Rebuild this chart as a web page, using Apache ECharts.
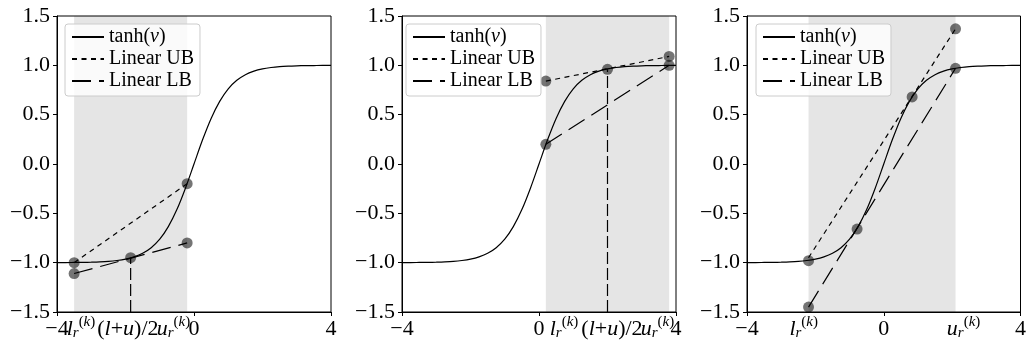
<!DOCTYPE html>
<html><head><meta charset="utf-8">
<script src="https://cdn.jsdelivr.net/npm/echarts@6/dist/echarts.min.js"></script>
<style>html,body{margin:0;padding:0;background:#fff}#c{width:1029px;height:346px}</style>
</head><body><div id="c"></div><script>
// tanh(v) curve
const curveX = [-4,-3.75,-3.5,-3.25,-3,-2.75,-2.5,-2.25,-2,-1.75,-1.5,-1.25,-1,-0.75,-0.5,-0.25,0,0.25,0.5,0.75,1,1.25,1.5,1.75,2,2.25,2.5,2.75,3,3.25,3.5,3.75,4];
const curveY = [-0.999,-0.999,-0.998,-0.997,-0.995,-0.992,-0.987,-0.978,-0.964,-0.941,-0.905,-0.848,-0.762,-0.635,-0.462,-0.245,0,0.245,0.462,0.635,0.762,0.848,0.905,0.941,0.964,0.978,0.987,0.992,0.995,0.997,0.998,0.999,0.999];
const yTicks = [-1.5,-1.0,-0.5,0,0.5,1.0,1.5];
const xMajorTicks = [-4,0,4];
const legendNames = ['tanh(v)','Linear UB','Linear LB'];

// panel 1
const p1Range = [-3.5,-0.2];
const p1UB = [[-3.5,-1.0],[-0.2,-0.2]];
const p1LB = [[-3.5,-1.11],[-0.2,-0.8]];
const p1VLine = [[-1.85,-1.5],[-1.85,-0.95]];
const p1Dots = [[-3.5,-1.0],[-3.5,-1.11],[-1.85,-0.95],[-0.2,-0.2],[-0.2,-0.8]];
const p1LabelPos = [-3.3,-1.93,-0.6];
const p1LabelKinds = ['l','mid','u'];

// panel 2
const p2Range = [0.2,3.8];
const p2UB = [[0.2,0.84],[3.8,1.09]];
const p2LB = [[0.2,0.2],[3.8,1.0]];
const p2VLine = [[2.0,-1.5],[2.0,0.96]];
const p2Dots = [[0.2,0.2],[0.2,0.84],[2.0,0.96],[3.8,1.09],[3.8,1.0]];
const p2LabelPos = [0.73,2.13,3.46];
const p2LabelKinds = ['l','mid','u'];

// panel 3
const p3Range = [-2.2,2.1];
const p3UB = [[-2.2,-0.95],[2.1,1.37]];
const p3LB = [[-2.2,-1.45],[2.1,0.97]];
const p3VLine = [];
const p3Dots = [[-2.2,-0.98],[-2.2,-1.45],[-0.78,-0.66],[0.83,0.68],[2.1,0.97],[2.1,1.37]];
const p3LabelPos = [-2.35,2.30];
const p3LabelKinds = ['l','u'];

const FONT = 'Liberation Serif';
const FS = 22;      // tick labels
const LFS = 20;     // legend
const panels = [
  {range:p1Range, ub:p1UB, lb:p1LB, vline:p1VLine, dots:p1Dots, lpos:p1LabelPos, lkind:p1LabelKinds},
  {range:p2Range, ub:p2UB, lb:p2LB, vline:p2VLine, dots:p2Dots, lpos:p2LabelPos, lkind:p2LabelKinds},
  {range:p3Range, ub:p3UB, lb:p3LB, vline:p3VLine, dots:p3Dots, lpos:p3LabelPos, lkind:p3LabelKinds}
];
const gridBoxes = [{left:57,width:274},{left:402,width:274},{left:747,width:275}];
const legendLefts = [65,406,756];

const richX = {
  n:{fontFamily:FONT,fontSize:FS,lineHeight:28,color:'#000'},
  it:{fontFamily:FONT,fontSize:FS,fontStyle:'italic',lineHeight:28,color:'#000'},
  sub:{fontFamily:FONT,fontSize:15,fontStyle:'italic',lineHeight:15,padding:[8,0,0,0],color:'#000'},
  sup:{fontFamily:FONT,fontSize:15,lineHeight:15,padding:[0,0,13,0],color:'#000'},
  supi:{fontFamily:FONT,fontSize:15,fontStyle:'italic',lineHeight:15,padding:[0,0,13,0],color:'#000'}
};
const kindText = {
  l:'{it|l}{sub|r}{sup|(}{supi|k}{sup|)}',
  u:'{it|u}{sub|r}{sup|(}{supi|k}{sup|)}',
  mid:'{n|(}{it|l}{n|+}{it|u}{n|)/2}'
};
function num(v, d){ const s = Math.abs(v).toFixed(d); return (v < 0 ? '\u2212' : '') + s; }

const grid=[], xAxis=[], yAxis=[], legend=[], series=[];
// main grids
panels.forEach((p,i)=>{
  grid.push({left:gridBoxes[i].left, width:gridBoxes[i].width, top:16, height:296,
    show:true, borderColor:'#000', borderWidth:1, backgroundColor:'transparent', z:10});
  xAxis.push({gridIndex:i, type:'value', min:-4, max:4, z:10,
    axisLine:{show:true,onZero:false,lineStyle:{color:'#000',width:1}},
    axisTick:{show:true,length:4,customValues:xMajorTicks,lineStyle:{color:'#000',width:1}},
    splitLine:{show:false},
    axisLabel:{customValues:xMajorTicks, showMinLabel:true, showMaxLabel:true,
      fontFamily:FONT, fontSize:FS, color:'#000', margin:3, lineHeight:28, formatter:(v)=>num(v,0)}
  });
  yAxis.push({gridIndex:i, type:'value', min:-1.5, max:1.5, interval:0.5, z:10,
    axisLine:{show:true,onZero:false,lineStyle:{color:'#000',width:1}},
    axisTick:{show:true,length:4,lineStyle:{color:'#000',width:1}},
    splitLine:{show:false},
    axisLabel:{fontFamily:FONT, fontSize:FS, color:'#000', margin:7, showMinLabel:true, showMaxLabel:true, formatter:(v)=>num(v,1)}
  });
  legend.push({left:legendLefts[i], top:24, orient:'vertical', data:legendNames, selectedMode:false,
    itemWidth:32, itemHeight:14, itemGap:2, padding:[3,6,5,6],
    backgroundColor:'rgba(255,255,255,0.8)', borderColor:'#cccccc', borderWidth:1, borderRadius:3,
    itemStyle:{opacity:0}, z:20,
    textStyle:{fontFamily:FONT, fontSize:LFS, color:'#000',
      rich:{it:{fontFamily:FONT,fontSize:LFS,fontStyle:'italic',color:'#000'}}},
    formatter:(name)=> name==='tanh(v)' ? 'tanh({it|v})' : name
  });
  series.push({type:'line', xAxisIndex:i, yAxisIndex:i, data:[], z:1, silent:true,
    markArea:{silent:true, itemStyle:{color:'#e5e5e5'}, data:[[{xAxis:p.range[0]},{xAxis:p.range[1]}]]}});
  series.push({type:'line', name:'tanh(v)', xAxisIndex:i, yAxisIndex:i, symbol:'none', smooth:0.3, z:3,
    data:curveX.map((x,j)=>[x,curveY[j]]), lineStyle:{color:'#000',width:1.2}, itemStyle:{color:'#000'}});
  series.push({type:'line', name:'Linear UB', xAxisIndex:i, yAxisIndex:i, symbol:'none', z:3,
    data:p.ub, lineStyle:{color:'#000',width:1.2,type:[5,4.5]}, itemStyle:{color:'#000'}});
  series.push({type:'line', name:'Linear LB', xAxisIndex:i, yAxisIndex:i, symbol:'none', z:3,
    data:p.lb, lineStyle:{color:'#000',width:1.2,type:[19,8]}, itemStyle:{color:'#000'}});
  if(p.vline.length){
    series.push({type:'line', xAxisIndex:i, yAxisIndex:i, symbol:'none', z:3,
      data:p.vline, lineStyle:{color:'#000',width:1.2,type:[12,4]}});
  }
  series.push({type:'scatter', xAxisIndex:i, yAxisIndex:i, symbolSize:11, z:4,
    data:p.dots, itemStyle:{color:'rgba(0,0,0,0.68)'}});
});
// overlay grids: one per symbolic tick label (l, (l+u)/2, u), same geometry as the panel
panels.forEach((p,i)=>{
  p.lpos.forEach((pos,k)=>{
    const g = grid.length;
    grid.push({left:gridBoxes[i].left, width:gridBoxes[i].width, top:16, height:296, show:false});
    xAxis.push({gridIndex:g, type:'value', min:-4, max:4, z:10,
      axisLine:{show:false,onZero:false}, axisTick:{show:false}, splitLine:{show:false},
      axisLabel:{customValues:[pos], showMinLabel:true, showMaxLabel:true,
        fontFamily:FONT, fontSize:FS, color:'#000', margin:3, lineHeight:28, rich:richX,
        formatter:()=>kindText[p.lkind[k]]}
    });
    yAxis.push({gridIndex:g, type:'value', min:-1.5, max:1.5, show:false});
  });
});

const chart = echarts.init(document.getElementById('c'), null, {renderer:'canvas'});
chart.setOption({animation:false, backgroundColor:'#fff', grid, xAxis, yAxis, legend, series});
</script></body></html>
